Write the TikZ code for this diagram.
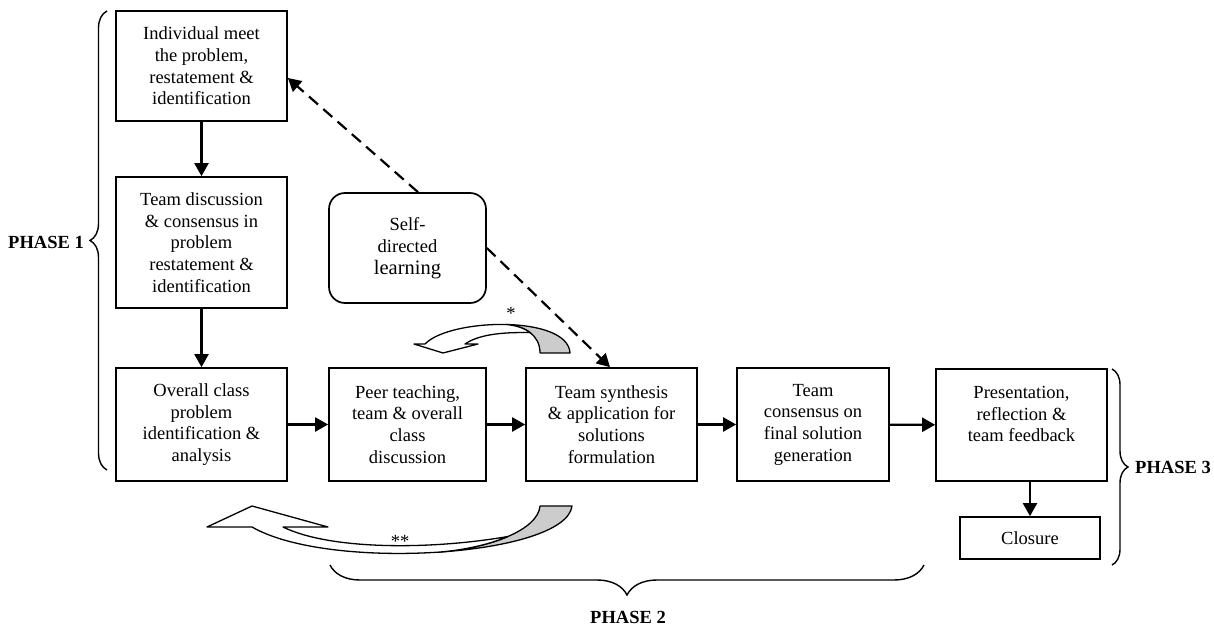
\documentclass[tikz,border=0pt]{standalone}
\usepackage{fontspec}
\setmainfont{Liberation Serif}
\usetikzlibrary{arrows.meta,decorations.pathreplacing}
\begin{document}
\begin{tikzpicture}[x=1pt,y=-1pt,
  box/.style={draw, line width=1.7pt, inner sep=0pt, align=center,
    font=\fontsize{18.5}{21.7}\selectfont},
  sdl/.style={box, rounded corners=16pt},
  flow/.style={line width=2.2pt, -{Triangle[length=13pt,width=14pt]}},
  dflow/.style={line width=2.2pt, dash pattern=on 12pt off 7pt, -{Triangle[length=13pt,width=14pt]}},
  bracestyle/.style={line width=1.4pt, decorate},
  phase/.style={font=\fontsize{18.5}{21.7}\selectfont\bfseries},
  star/.style={font=\fontsize{18.5}{21.7}\selectfont},
  curvearrow/.style={line width=1.3pt, line join=round},
]
\useasboundingbox (0,0) rectangle (1214,628);

% boxes
\node[box, minimum width=171pt, minimum height=110pt] (b1) at (201.5,66)
  {Individual meet\\the problem,\\restatement \&\\identification};
\node[box, minimum width=171pt, minimum height=131pt] (b2) at (201.5,242.5)
  {Team discussion\\\& consensus in\\problem\\restatement \&\\identification};
\node[box, minimum width=171pt, minimum height=113pt] (b3) at (201.5,424.5)
  {Overall class\\problem\\identification \&\\analysis};
\node[box, minimum width=157pt, minimum height=113pt] (b4) at (407.5,424.5)
  {Peer teaching,\\team \& overall\\class\\discussion};
\node[box, minimum width=171pt, minimum height=113pt] (b5) at (611.5,424.5)
  {Team synthesis\\\& application for\\solutions\\formulation};
\node[box, minimum width=152pt, minimum height=113pt] (b6) at (813,424.5)
  {Team\\consensus on\\final solution\\generation};
\node[box, minimum width=171pt, minimum height=112pt] (b7) at (1021.5,425)
  {Presentation,\\reflection \&\\team feedback\\\mbox{}};
\node[box, minimum width=140pt, minimum height=42pt] (b8) at (1030,538) {Closure};
\node[sdl, minimum width=157pt, minimum height=110pt] (sdl) at (407.5,248)
  {Self-\\directed\\{\fontsize{20.5}{22}\selectfont learning}};

% solid connectors
\draw[flow] (b1) -- (b2);
\draw[flow] (b2) -- (b3);
\draw[flow] (b3) -- (b4);
\draw[flow] (b4) -- (b5);
\draw[flow] (b5) -- (b6);
\draw[flow] (b6) -- (b7);
\draw[flow] (b7.south -| b8) -- (b8);

% dashed connectors
\draw[dflow] ([xshift=10.5pt]sdl.north) -- ([yshift=-12pt]b1.east);
\draw[dflow] (sdl.east) -- ([xshift=-1.5pt]b5.north);

% small curved arrow (*)
\fill[black!20] (540,353) -- (570,353) .. controls (569,334) and (539,325.25) .. (506,324.5)
  .. controls (525,326) and (540,335) .. (540,353) -- cycle;
\draw[curvearrow] (540,353) -- (570,353) .. controls (569,334) and (539,325.25) .. (506,324.5)
  .. controls (525,326) and (540,335) .. (540,353);
\draw[curvearrow, fill=white] (506,324.5) .. controls (473.25,323.75) and (437.5,331) .. (425,344)
  -- (414,344) -- (443,353) -- (478,344) -- (465,344)
  .. controls (478,335) and (500,332) .. (530,332.6)
  .. controls (524,327.9) and (515.5,325.25) .. (506,324.5) -- cycle;
\node[star] (s1) at (511,313) {*};

% big curved arrow (**)
\fill[black!20] (540,506) -- (572,506) .. controls (569,531) and (508.5,547.5) .. (439,552.1)
  .. controls (490,548) and (538,530) .. (540,506) -- cycle;
\draw[curvearrow] (540,506) -- (572,506) .. controls (569,531) and (508.5,547.5) .. (439,552.1)
  .. controls (490,548) and (538,530) .. (540,506);
\draw[curvearrow, fill=white] (439,552.1) .. controls (369.5,556.75) and (291,549.5) .. (252,527)
  -- (207,527) -- (252,506) -- (328,527) -- (283,527)
  .. controls (330,550) and (430,550) .. (507.9,536.5)
  .. controls (489.25,544.5) and (464.5,550.05) .. (439,552.1) -- cycle;
\node[star] (s2) at (400,541) {**};

% braces
\coordinate (p1a) at (107,470);
\coordinate (p1b) at (107,11);
\draw[bracestyle, decoration={brace, amplitude=17pt}] (p1a) -- (p1b);
\node[phase] (ph1) at (46,242) {PHASE 1};

\coordinate (p2a) at (924,565);
\coordinate (p2b) at (330,565);
\draw[bracestyle, decoration={brace, amplitude=30pt}] (p2a) -- (p2b);
\node[phase] (ph2) at (628,617) {PHASE 2};

\coordinate (p3a) at (1112,369);
\coordinate (p3b) at (1112,565);
\draw[bracestyle, decoration={brace, amplitude=16pt}] (p3a) -- (p3b);
\node[phase] (ph3) at (1173,467) {PHASE 3};
\end{tikzpicture}
\end{document}
